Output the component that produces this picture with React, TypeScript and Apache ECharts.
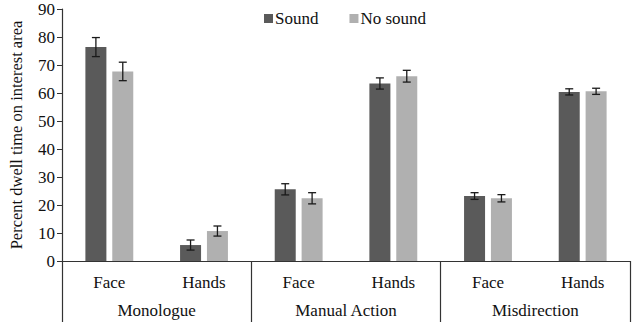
import React, { useEffect, useRef } from "react";
import * as echarts from "echarts";

const groups = ["Monologue", "Manual Action", "Misdirection"];
const areas = ["Face", "Hands", "Face", "Hands", "Face", "Hands"];
const sound = [76.4, 5.7, 25.6, 63.4, 23.2, 60.4];
const soundErr = [3.4, 1.8, 2.0, 2.0, 1.2, 1.1];
const noSound = [67.7, 10.7, 22.4, 66.0, 22.4, 60.6];
const noSoundErr = [3.3, 1.8, 2.0, 2.1, 1.3, 1.1];
const yTicks = [0, 90, 10];

const FONT = "Liberation Serif";
const FS = 17;
const BAR_W = 21;
const GAP_PCT = 28;

function errorSeries(name: string, values: number[], errs: number[], dir: number) {
  return {
    type: "custom",
    name: name + " err",
    xAxisIndex: 0,
    z: 10,
    silent: true,
    renderItem: (params: any, api: any) => {
      const i = api.value(0);
      const v = api.value(1);
      const e = api.value(2);
      const off = dir * (BAR_W + (BAR_W * GAP_PCT) / 100) / 2;
      const top = api.coord([i, v + e]);
      const bot = api.coord([i, v - e]);
      const x = top[0] + off;
      const cap = 4;
      const style = { stroke: "#1a1a1a", lineWidth: 1.3 };
      return {
        type: "group",
        children: [
          { type: "line", shape: { x1: x, y1: top[1], x2: x, y2: bot[1] }, style },
          { type: "line", shape: { x1: x - cap, y1: top[1], x2: x + cap, y2: top[1] }, style },
          { type: "line", shape: { x1: x - cap, y1: bot[1], x2: x + cap, y2: bot[1] }, style },
        ],
      };
    },
    data: values.map((v, i) => [i, v, errs[i]]),
  };
}

export default function App() {
  const ref = useRef<HTMLDivElement>(null);
  useEffect(() => {
    const chart = echarts.init(ref.current!, null, { renderer: "svg" });
    chart.setOption({
      animation: false,
      textStyle: { fontFamily: FONT },
      legend: {
        top: 5,
        left: 259,
        itemWidth: 9,
        itemHeight: 9,
        itemGap: 31,
        icon: "rect",
        textStyle: { fontFamily: FONT, fontSize: FS, color: "#111", padding: [0, 0, 0, -3] },
        data: ["Sound", "No sound"],
      },
      grid: { left: 60, right: 7, top: 9, bottom: 61, containLabel: false },
      xAxis: [
        {
          type: "category",
          data: areas,
          axisLine: { show: true, lineStyle: { color: "#333", width: 1.2 } },
          axisTick: { show: false },
          axisLabel: { fontFamily: FONT, fontSize: FS, color: "#111", margin: 13, interval: 0 },
        },
        {
          type: "category",
          data: groups,
          position: "bottom",
          axisLine: { show: false },
          axisTick: { show: true, length: 62, interval: 0, lineStyle: { color: "#333", width: 1.2 } },
          axisLabel: { fontFamily: FONT, fontSize: FS, color: "#111", margin: 41, interval: 0 },
        },
      ],
      yAxis: {
        type: "value",
        min: yTicks[0],
        max: yTicks[1],
        interval: yTicks[2],
        name: "Percent dwell time on interest area",
        nameLocation: "middle",
        nameGap: 37,
        nameTextStyle: { fontFamily: FONT, fontSize: 16.5, color: "#111" },
        axisLine: { show: true, lineStyle: { color: "#333", width: 1.2 } },
        axisTick: { show: true, length: 5, lineStyle: { color: "#333" } },
        splitLine: { show: false },
        axisLabel: { fontFamily: FONT, fontSize: FS, color: "#111", margin: 7 },
      },
      series: [
        {
          type: "bar",
          name: "Sound",
          data: sound,
          barWidth: BAR_W,
          barGap: GAP_PCT + "%",
          itemStyle: { color: "#5a5a5a" },
        },
        {
          type: "bar",
          name: "No sound",
          data: noSound,
          barWidth: BAR_W,
          itemStyle: { color: "#b0b0b0" },
        },
        errorSeries("Sound", sound, soundErr, -1),
        errorSeries("No sound", noSound, noSoundErr, 1),
      ],
    });
    return () => chart.dispose();
  }, []);
  return <div ref={ref} style={{ width: 637, height: 322, position: "absolute", left: 0, top: 0 }} />;
}
